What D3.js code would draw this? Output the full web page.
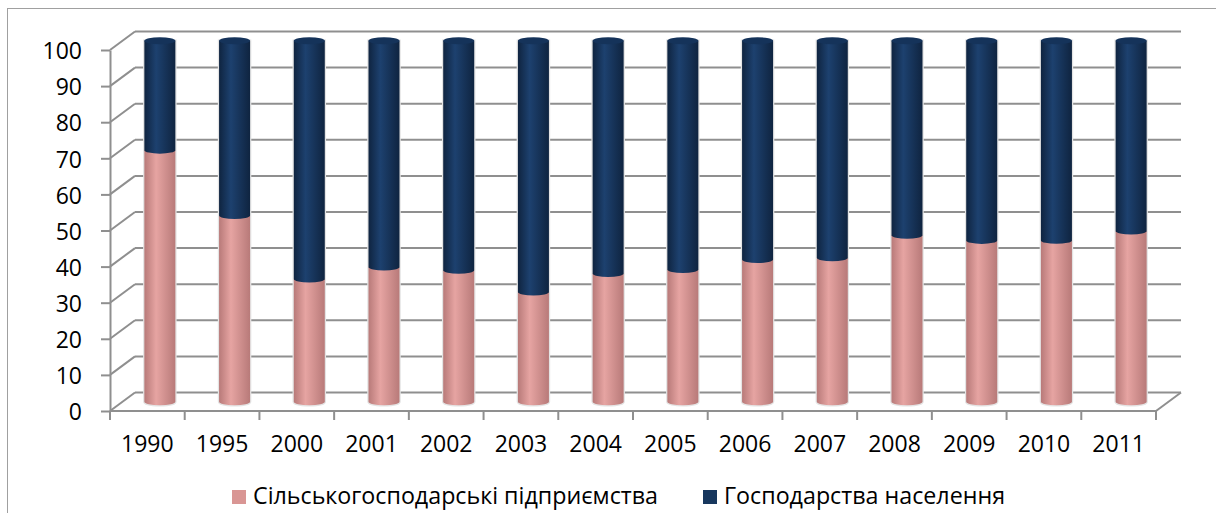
<!DOCTYPE html>
<html>
<head>
<meta charset="utf-8">
<script src="https://cdn.jsdelivr.net/npm/d3@7"></script>
<style>
  body { margin: 0; background: #fff; }
  svg { display: block; font-family: "Open Sans", "Noto Sans", sans-serif; }
</style>
</head>
<body>
<svg></svg>
<script>
// Chart data
const years = ["1990", "1995", "2000", "2001", "2002", "2003", "2004", "2005", "2006", "2007", "2008", "2009", "2010", "2011"];
const enterprises = [69.7, 51.6, 34.0, 37.3, 36.4, 30.4, 35.5, 36.6, 39.4, 39.9, 46.1, 44.7, 44.7, 47.3];
const households = [30.3, 48.4, 66.0, 62.7, 63.6, 69.6, 64.5, 63.4, 60.6, 60.1, 53.9, 55.3, 55.3, 52.7];
const seriesNames = ["Сільськогосподарські підприємства", "Господарства населення"];
const yTicks = [0, 10, 20, 30, 40, 50, 60, 70, 80, 90, 100];

const width = 1216;
const height = 513;

// front plane of the 3D box and its depth offset
const plot = { left: 110, right: 1156, top: 50, bottom: 411 };
const depth = { dx: 25, dy: -18.5 };

const svg = d3.select("svg").attr("width", width).attr("height", height);

const defs = svg.append("defs");

function cylGradient(id, dark, light) {
  const g = defs.append("linearGradient").attr("id", id)
    .attr("x1", "0%").attr("x2", "100%").attr("y1", "0%").attr("y2", "0%");
  g.append("stop").attr("offset", "0%").attr("stop-color", dark);
  g.append("stop").attr("offset", "38%").attr("stop-color", light);
  g.append("stop").attr("offset", "100%").attr("stop-color", dark);
}
cylGradient("gradPink", "#b87a79", "#e6a4a2");
cylGradient("gradNavy", "#0f2440", "#1d416f");

// outer chart border
svg.append("rect")
  .attr("x", 7.5).attr("y", 8.5)
  .attr("width", width).attr("height", height)
  .attr("fill", "none")
  .attr("stroke", "#a0a0a0")
  .attr("stroke-width", 1);

// Scales
const x = d3.scaleBand()
  .domain(years)
  .range([plot.left, plot.right])
  .paddingInner(0.585)
  .paddingOuter(0.2925);

const y = d3.scaleLinear().domain([0, 100]).range([plot.bottom, plot.top]);

const gridColor = "#8f8f8f";
const grid = svg.append("g").attr("class", "grid")
  .attr("stroke", gridColor).attr("stroke-width", 2).attr("fill", "none");

// back wall gridlines
grid.selectAll(".back")
  .data(yTicks)
  .join("line")
  .attr("x1", plot.left + depth.dx)
  .attr("x2", plot.right + depth.dx)
  .attr("y1", (d) => y(d) + depth.dy)
  .attr("y2", (d) => y(d) + depth.dy);

// side wall gridlines
grid.selectAll(".side")
  .data(yTicks)
  .join("line")
  .attr("x1", plot.left)
  .attr("x2", plot.left + depth.dx)
  .attr("y1", (d) => y(d))
  .attr("y2", (d) => y(d) + depth.dy);

// floor right edge
grid.append("line")
  .attr("x1", plot.right).attr("y1", y(0))
  .attr("x2", plot.right + depth.dx).attr("y2", y(0) + depth.dy);

// Cylinders
const rx = x.bandwidth() / 2;
const ry = 3.5;
const midX = (d) => x(d) + depth.dx / 2;
const midY = (v) => y(v) + depth.dy / 2;

function body(x0, yTop, yBot) {
  const x1 = x0 + 2 * rx;
  return `M${x0},${yTop} L${x0},${yBot} A${rx},${ry} 0 0 0 ${x1},${yBot} L${x1},${yTop} Z`;
}

const bars = svg.append("g").attr("class", "bars");

years.forEach((yr, i) => {
  const x0 = midX(yr);
  const v = enterprises[i];
  const top = v + households[i];
  const g = bars.append("g");

  // light halo around the cylinder, like the soft shadow in the original
  g.append("path")
    .attr("d", body(x0, midY(top), midY(0)))
    .attr("fill", "none")
    .attr("stroke", "#e4e4e4")
    .attr("stroke-width", 2.5);

  // lower series
  g.append("path")
    .attr("d", body(x0, midY(v), midY(0)))
    .attr("fill", "url(#gradPink)");

  // upper series
  g.append("path")
    .attr("d", body(x0, midY(top), midY(v)))
    .attr("fill", "url(#gradNavy)");

  // top cap
  g.append("ellipse")
    .attr("cx", x0 + rx)
    .attr("cy", midY(top))
    .attr("rx", rx)
    .attr("ry", ry)
    .attr("fill", "#15335a");
});

// Axes
const yAxis = svg.append("g")
  .attr("class", "y-axis")
  .attr("transform", `translate(${plot.left},0)`)
  .call(d3.axisLeft(y).tickValues(yTicks).tickSize(9).tickSizeOuter(0).tickPadding(19));

const xAxis = svg.append("g")
  .attr("class", "x-axis")
  .attr("transform", `translate(0,${plot.bottom})`)
  .call(d3.axisBottom(x).tickSize(0).tickPadding(25));

// x tick marks sit on category boundaries
xAxis.selectAll(".edge")
  .data(d3.range(years.length + 1))
  .join("line")
  .attr("class", "edge")
  .attr("x1", (i) => plot.left + i * x.step())
  .attr("x2", (i) => plot.left + i * x.step())
  .attr("y1", 0)
  .attr("y2", 9);

xAxis.select(".domain").attr("d", `M${plot.left},0H${plot.right}`);

svg.selectAll(".x-axis .domain, .y-axis .domain, .x-axis line, .y-axis line")
  .attr("stroke", gridColor)
  .attr("stroke-width", 2);

svg.selectAll(".x-axis text, .y-axis text")
  .attr("fill", "#000")
  .style("font-size", "23px")
  .style("font-family", "\"Open Sans\", \"Noto Sans\", sans-serif");

yAxis.selectAll("text").attr("dy", "0.38em");

// Legend
const legendItems = [
  { name: seriesNames[0], color: "#d99694", x: 232, textLen: 405 },
  { name: seriesNames[1], color: "#17375e", x: 703, textLen: 281 }
];

const legend = svg.append("g").attr("class", "legend");
legendItems.forEach((d) => {
  legend.append("rect")
    .attr("x", d.x).attr("y", 490)
    .attr("width", 14).attr("height", 14)
    .attr("fill", d.color);
  legend.append("text")
    .attr("x", d.x + 21)
    .attr("y", 504)
    .attr("textLength", d.textLen)
    .attr("lengthAdjust", "spacingAndGlyphs")
    .style("font-size", "24px")
    .text(d.name);
});
</script>
</body>
</html>
